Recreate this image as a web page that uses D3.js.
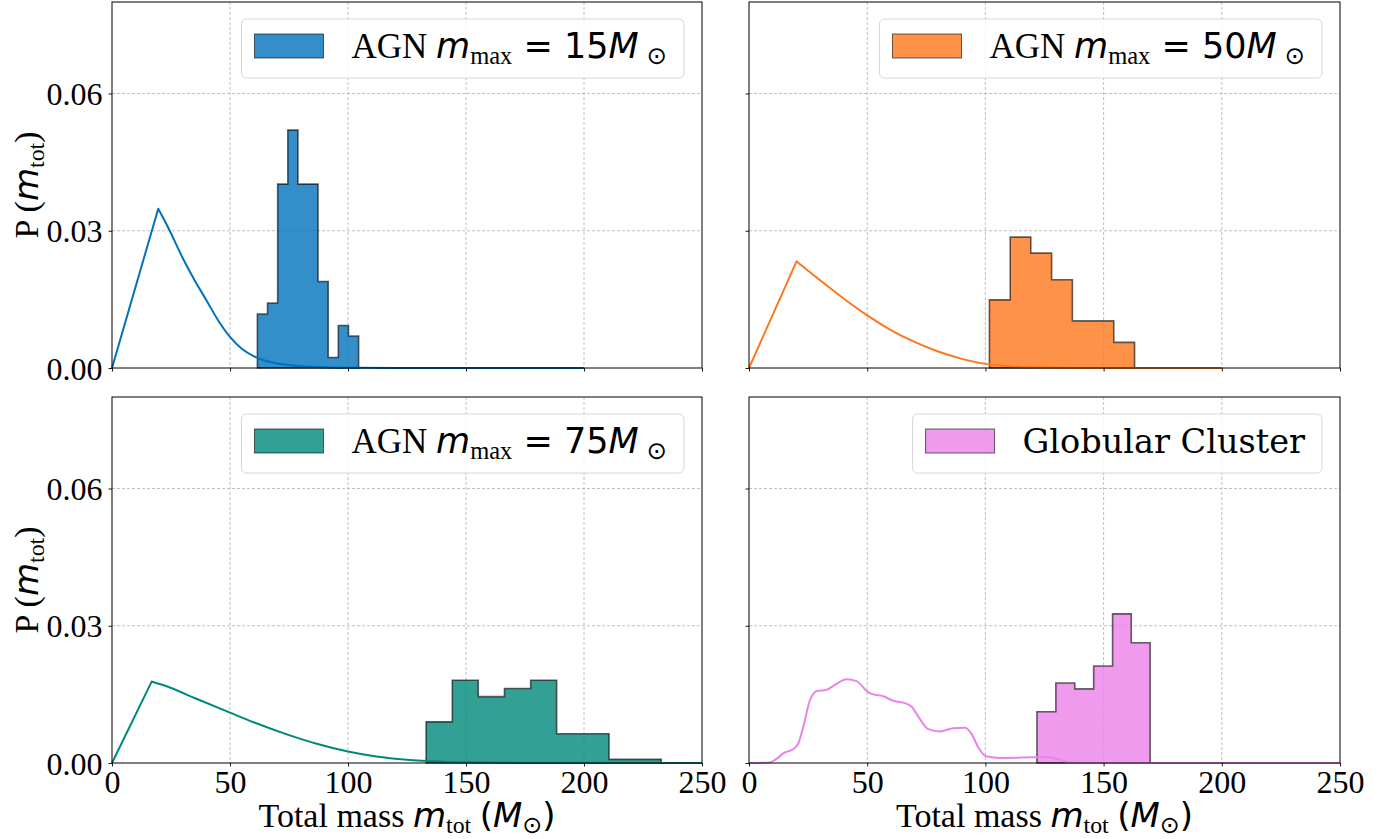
<!DOCTYPE html>
<html lang="en">
  <head>
    <meta charset="UTF-8" />
    <script src="https://cdn.jsdelivr.net/npm/d3@7"></script>
    <style>
      * {
        margin: 0;
        padding: 0;
      }
      body {
        background: #fff;
      }
      text {
        white-space: pre;
      }
    </style>
    <title>Total mass distributions</title>
  </head>
  <body>
    <div id="chart"></div>
  </body>
  <script>
    // ---- data ----
    const xTicks = [0, 50, 100, 150, 200, 250];
    const yTicks = [0, 0.03, 0.06];
    const yTickLabels = ['0.00', '0.03', '0.06'];

    // AGN m_max = 15
    const agn15Edges = [61.6, 65.9, 70.2, 74.5, 78.8, 83.0, 87.3, 91.6, 95.9, 100.2, 104.5];
    const agn15Density = [0.0118, 0.0142, 0.0402, 0.052, 0.0402, 0.0402, 0.0189, 0.0023, 0.0093, 0.007];
    const agn15CurveX = [0, 19.6, 23.9, 30, 35, 40, 45, 50, 55, 60, 65, 70, 80, 90, 100, 120, 200];
    const agn15CurveY = [0, 0.0348, 0.0306, 0.024, 0.0192, 0.0148, 0.0104, 0.0068, 0.0042, 0.0026, 0.0016, 0.001, 0.0004, 0.00015, 0.00005, 0, 0];

    // AGN m_max = 50
    const agn50Edges = [101.7, 110.5, 119.2, 128.0, 136.8, 145.5, 154.3, 163.1];
    const agn50Density = [0.0149, 0.0286, 0.0251, 0.0193, 0.0103, 0.0103, 0.0056];
    const agn50CurveX = [0, 20.1, 30, 40, 50, 60, 70, 80, 90, 100, 110, 120, 140, 200];
    const agn50CurveY = [0, 0.0233, 0.0192, 0.0152, 0.0115, 0.0083, 0.0057, 0.0036, 0.002, 0.0009, 0.0004, 0.00015, 0, 0];

    // AGN m_max = 75
    const agn75Edges = [133.1, 144.2, 155.2, 166.3, 177.4, 188.4, 199.5, 210.6, 221.6, 232.7];
    const agn75Density = [0.009, 0.0181, 0.0145, 0.0163, 0.0181, 0.0064, 0.0064, 0.0008, 0.0008];
    const agn75CurveX = [0, 16.8, 25, 35, 50, 60, 75, 87.5, 100, 112, 125, 140, 160, 180, 250];
    const agn75CurveY = [0, 0.0178, 0.0164, 0.0142, 0.011, 0.0089, 0.0061, 0.0041, 0.0025, 0.0014, 0.0007, 0.0003, 0.0001, 0, 0];

    // Globular cluster
    const gcEdges = [121.8, 129.8, 137.8, 145.8, 153.8, 161.7, 169.7];
    const gcDensity = [0.0112, 0.0175, 0.0162, 0.0212, 0.0326, 0.0263];
    const gcCurveX = [0, 8.8, 11.6, 15.1, 18.6, 20.8, 22.9, 25.7, 28.5, 32.8, 37, 41.2, 45.5, 50.4, 52.5, 56.8, 61, 65.3, 68.8, 72.3, 75.8, 80.8, 86.4, 91.4, 94.2, 97, 100.6, 106.2, 116.1, 126, 131.6, 135.9, 145, 250];
    const gcCurveY = [0, 0.0001, 0.0009, 0.0023, 0.003, 0.0042, 0.0078, 0.0136, 0.0157, 0.016, 0.0173, 0.0183, 0.0179, 0.0155, 0.015, 0.0146, 0.0136, 0.0132, 0.0123, 0.0096, 0.0074, 0.0069, 0.0076, 0.0077, 0.0063, 0.0034, 0.0014, 0.0011, 0.0012, 0.0013, 0.0007, 0.0001, 0, 0];

    const panelColors = ['#0072bd', '#ff771c', '#00887c', '#ec81ea'];
    const agnMax = ['15', '50', '75'];

    // ---- layout ----
    const W = 1392,
      H = 839;
    const SERIF = "'Liberation Serif', 'Times New Roman', serif";
    const SANS = "'DejaVu Sans', sans-serif";
    const DSERIF = "'DejaVu Serif', serif";
    const cols = [
      { x0: 112, x1: 702 },
      { x0: 749, x1: 1340 },
    ];
    const rows = [
      { y0: 2, y1: 368 },
      { y0: 397, y1: 763 },
    ];

    const svg = d3
      .select('#chart')
      .append('svg')
      .attr('width', W)
      .attr('height', H);

    function richText(sel, parts, size) {
      const t = sel.append('text').attr('font-size', size);
      let shift = 0;
      parts.forEach((p) => {
        const ts = t
          .append('tspan')
          .text(p.t)
          .attr('font-family', p.f || SERIF);
        if (p.it) ts.attr('font-style', 'italic');
        const target = p.sub ? size * 0.18 : 0;
        if (target !== shift) ts.attr('dy', target - shift);
        shift = target;
        if (p.sub) ts.attr('font-size', size * 0.7);
      });
      return t;
    }

    const mtotParts = [
      { t: 'm', f: SANS, it: true },
      { t: 'tot', sub: true },
    ];

    const panels = [
      { edges: agn15Edges, dens: agn15Density, cx: agn15CurveX, cy: agn15CurveY, r: 0, c: 0 },
      { edges: agn50Edges, dens: agn50Density, cx: agn50CurveX, cy: agn50CurveY, r: 0, c: 1 },
      { edges: agn75Edges, dens: agn75Density, cx: agn75CurveX, cy: agn75CurveY, r: 1, c: 0 },
      { edges: gcEdges, dens: gcDensity, cx: gcCurveX, cy: gcCurveY, r: 1, c: 1 },
    ];

    panels.forEach((p, i) => {
      const col = cols[p.c],
        row = rows[p.r];
      const color = panelColors[i];
      const x = d3.scaleLinear().domain([0, 250]).range([col.x0, col.x1]);
      const y = d3.scaleLinear().domain([0, 0.08]).range([row.y1, row.y0]);
      const g = svg.append('g');

      // grid
      g.append('g')
        .selectAll('line')
        .data(xTicks.slice(1, -1))
        .join('line')
        .attr('x1', (d) => x(d))
        .attr('x2', (d) => x(d))
        .attr('y1', row.y0)
        .attr('y2', row.y1)
        .attr('stroke', '#b0b0b0')
        .attr('stroke-width', 0.8)
        .attr('stroke-dasharray', '3,2');
      g.append('g')
        .selectAll('line')
        .data(yTicks.slice(1))
        .join('line')
        .attr('x1', col.x0)
        .attr('x2', col.x1)
        .attr('y1', (d) => y(d))
        .attr('y2', (d) => y(d))
        .attr('stroke', '#b0b0b0')
        .attr('stroke-width', 0.8)
        .attr('stroke-dasharray', '3,2');

      // histogram (stepfilled)
      const pts = [[p.edges[0], 0]];
      p.dens.forEach((v, k) => {
        pts.push([p.edges[k], v]);
        pts.push([p.edges[k + 1], v]);
      });
      pts.push([p.edges[p.edges.length - 1], 0]);
      const stepLine = d3
        .line()
        .x((d) => x(d[0]))
        .y((d) => y(d[1]));
      g.append('path')
        .attr('d', stepLine(pts) + 'Z')
        .attr('fill', color)
        .attr('fill-opacity', 0.8)
        .attr('stroke', '#000')
        .attr('stroke-opacity', 0.6)
        .attr('stroke-width', 1.6)
        .attr('stroke-linejoin', 'miter');

      // curve: straight rise to the peak, smooth after it
      const cpts = p.cx.map((v, k) => [v, p.cy[k]]);
      const peak = d3.maxIndex(cpts, (d) => d[1]);
      const lin = d3
        .line()
        .x((d) => x(d[0]))
        .y((d) => y(d[1]));
      const smooth = d3
        .line()
        .x((d) => x(d[0]))
        .y((d) => y(d[1]))
        .curve(d3.curveMonotoneX);
      const curveD =
        i === 3
          ? smooth(cpts)
          : lin(cpts.slice(0, peak + 1)) +
            smooth(cpts.slice(peak)).replace(/^M[^A-Za-z]*/, 'L' + x(cpts[peak][0]) + ',' + y(cpts[peak][1]));
      g.append('path')
        .attr('d', curveD)
        .attr('fill', 'none')
        .attr('stroke', color)
        .attr('stroke-width', 2)
        .attr('stroke-linejoin', 'round');

      // frame
      g.append('rect')
        .attr('x', col.x0)
        .attr('y', row.y0)
        .attr('width', col.x1 - col.x0)
        .attr('height', row.y1 - row.y0)
        .attr('fill', 'none')
        .attr('stroke', '#000')
        .attr('stroke-width', 1);

      // axes
      const xAxis = d3
        .axisBottom(x)
        .tickValues(xTicks)
        .tickSize(3.5)
        .tickPadding(4)
        .tickFormat(p.r === 1 ? d3.format('d') : () => '');
      const xg = g.append('g').attr('transform', `translate(0,${row.y1})`).call(xAxis);
      const yAxis = d3
        .axisLeft(y)
        .tickValues(yTicks)
        .tickSize(3.5)
        .tickPadding(6)
        .tickFormat((d, k) => (p.c === 0 ? yTickLabels[k] : ''));
      const yg = g.append('g').attr('transform', `translate(${col.x0},0)`).call(yAxis);
      [xg, yg].forEach((a) => {
        a.select('.domain').remove();
        a.selectAll('.tick line').attr('stroke', '#000').attr('stroke-width', 0.9);
        a.selectAll('.tick text')
          .attr('font-family', SERIF)
          .attr('font-size', 32)
          .attr('fill', '#000');
      });
      xg.selectAll('.tick text').attr('dy', null).attr('y', 30);
      yg.selectAll('.tick text').attr('dy', null).attr('y', 11);

      // axis labels
      if (p.r === 1) {
        richText(
          svg,
          [{ t: 'Total mass ' }, ...mtotParts, { t: ' ' }, { t: '(', f: SANS }, { t: 'M', f: SANS, it: true }, { t: '⊙', f: SANS, sub: true }, { t: ')', f: SANS }],
          34
        )
          .attr('x', (col.x0 + col.x1) / 2)
          .attr('y', 827)
          .attr('text-anchor', 'middle')
          .attr('fill', '#000');
      }
      if (p.c === 0) {
        const cyMid = (row.y0 + row.y1) / 2;
        richText(svg, [{ t: 'P (' }, ...mtotParts, { t: ')' }], 34)
          .attr('text-anchor', 'middle')
          .attr('transform', `translate(38,${cyMid}) rotate(-90)`)
          .attr('fill', '#000');
      }

      // legend
      const lg = svg.append('g');
      const box = lg.append('rect');
      const patch = lg.append('rect');
      const parts =
        i < 3
          ? [
              { t: 'AGN ' },
              { t: 'm', f: SANS, it: true },
              { t: 'max', sub: true },
              { t: ' = ' + agnMax[i], f: SANS },
              { t: 'M', f: SANS, it: true },
              { t: ' ⊙', f: SANS, sub: true },
            ]
          : [{ t: 'Globular Cluster', f: DSERIF }];
      const lt = richText(lg, parts, i < 3 ? 35 : 33.5).attr('fill', '#000');
      const tw = lt.node().getComputedTextLength();
      const right = col.x1 - 18,
        top = row.y0 + 17;
      const bw = 110 + tw + 17;
      const left = right - bw;
      box
        .attr('x', left)
        .attr('y', top)
        .attr('width', bw)
        .attr('height', 59)
        .attr('rx', 5)
        .attr('fill', '#fff')
        .attr('fill-opacity', 0.8)
        .attr('stroke', '#d6d6d6')
        .attr('stroke-width', 1);
      patch
        .attr('x', left + 13)
        .attr('y', top + 15)
        .attr('width', 69)
        .attr('height', 24)
        .attr('fill', color)
        .attr('fill-opacity', 0.8)
        .attr('stroke', '#000')
        .attr('stroke-opacity', 0.6)
        .attr('stroke-width', 1);
      lt.attr('x', left + 110).attr('y', top + 39);
    });
  </script>
</html>
